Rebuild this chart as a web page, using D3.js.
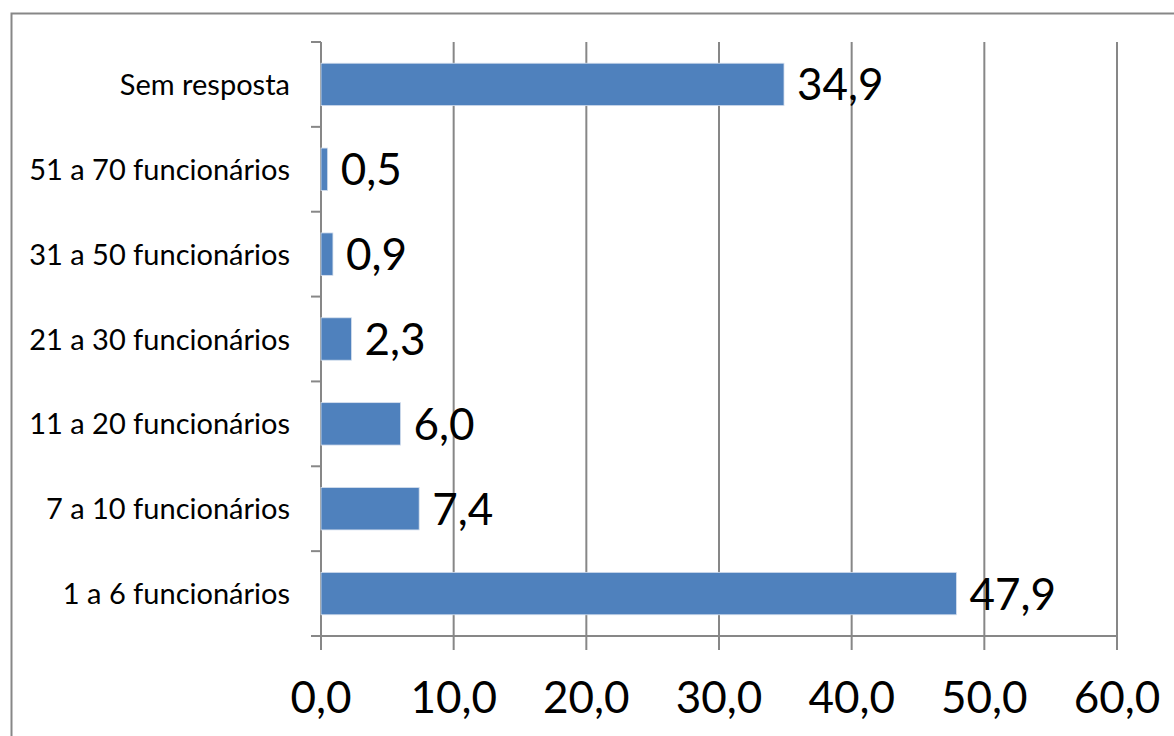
<!DOCTYPE html>
<html>
<head>
<meta charset="utf-8">
<script src="https://cdn.jsdelivr.net/npm/d3@7"></script>
<style>
  html, body { margin: 0; padding: 0; background: #fff; }
  svg { display: block; }
  text { font-family: Lato, "Open Sans", "Noto Sans", sans-serif; fill: #000; }
</style>
</head>
<body>
<svg id="chart" width="1174" height="736"></svg>
<script>
// Categories listed top to bottom as they appear on the vertical axis
const categories = [
  "Sem resposta",
  "51 a 70 funcionários",
  "31 a 50 funcionários",
  "21 a 30 funcionários",
  "11 a 20 funcionários",
  "7 a 10 funcionários",
  "1 a 6 funcionários"
];
const values = [34.9, 0.5, 0.9, 2.3, 6.0, 7.4, 47.9];
const xTicks = [0, 10, 20, 30, 40, 50, 60];

const svg = d3.select("#chart");
const gridColor = "#878787";
const barColor = "#4F81BD";
const fmt = v => v.toFixed(1).replace(".", ",");

// Outer chart border
svg.append("rect")
  .attr("x", 11.5).attr("y", 13.5)
  .attr("width", 1200).attr("height", 760)
  .attr("fill", "none")
  .attr("stroke", gridColor)
  .attr("stroke-width", 2);

const plotTop = 42, plotBottom = 636;
const x = d3.scaleLinear().domain([0, 60]).range([321, 1117]);
const y = d3.scaleBand().domain(categories).range([plotTop, plotBottom])
  .paddingInner(0.5).paddingOuter(0.25);

// Vertical gridlines (extend below the axis as tick marks)
svg.append("g").selectAll("line")
  .data(xTicks)
  .join("line")
  .attr("x1", d => x(d)).attr("x2", d => x(d))
  .attr("y1", plotTop).attr("y2", plotBottom + 14)
  .attr("stroke", gridColor)
  .attr("stroke-width", 2);

// Horizontal axis line
svg.append("line")
  .attr("x1", x(0) - 10).attr("x2", x(60))
  .attr("y1", plotBottom).attr("y2", plotBottom)
  .attr("stroke", gridColor).attr("stroke-width", 2);

// Category boundary ticks on the left axis
const step = y.step();
const boundaries = d3.range(categories.length + 1).map(i => plotTop + i * step);
svg.append("g").selectAll("line")
  .data(boundaries)
  .join("line")
  .attr("x1", x(0) - 10).attr("x2", x(0))
  .attr("y1", d => d).attr("y2", d => d)
  .attr("stroke", gridColor).attr("stroke-width", 2);

// Bars
svg.append("g").selectAll("rect")
  .data(categories)
  .join("rect")
  .attr("x", x(0))
  .attr("y", d => y(d))
  .attr("width", (d, i) => x(values[i]) - x(0))
  .attr("height", y.bandwidth())
  .attr("fill", barColor)
  .attr("stroke", "#d6e0ee")
  .attr("stroke-width", 0.8);

// Value labels
svg.append("g").selectAll("text")
  .data(categories)
  .join("text")
  .attr("x", (d, i) => x(values[i]) + 13)
  .attr("y", d => y(d) + y.bandwidth() / 2 + 16)
  .attr("font-size", 44)
  .text((d, i) => fmt(values[i]));

// Category labels
svg.append("g").selectAll("text")
  .data(categories)
  .join("text")
  .attr("x", 290)
  .attr("y", d => y(d) + y.bandwidth() / 2 + 10.5)
  .attr("text-anchor", "end")
  .attr("font-size", 29)
  .text(d => d);

// Axis tick labels
svg.append("g").selectAll("text")
  .data(xTicks)
  .join("text")
  .attr("x", d => x(d))
  .attr("y", 713)
  .attr("text-anchor", "middle")
  .attr("font-size", 44)
  .text(d => fmt(d));
</script>
</body>
</html>
